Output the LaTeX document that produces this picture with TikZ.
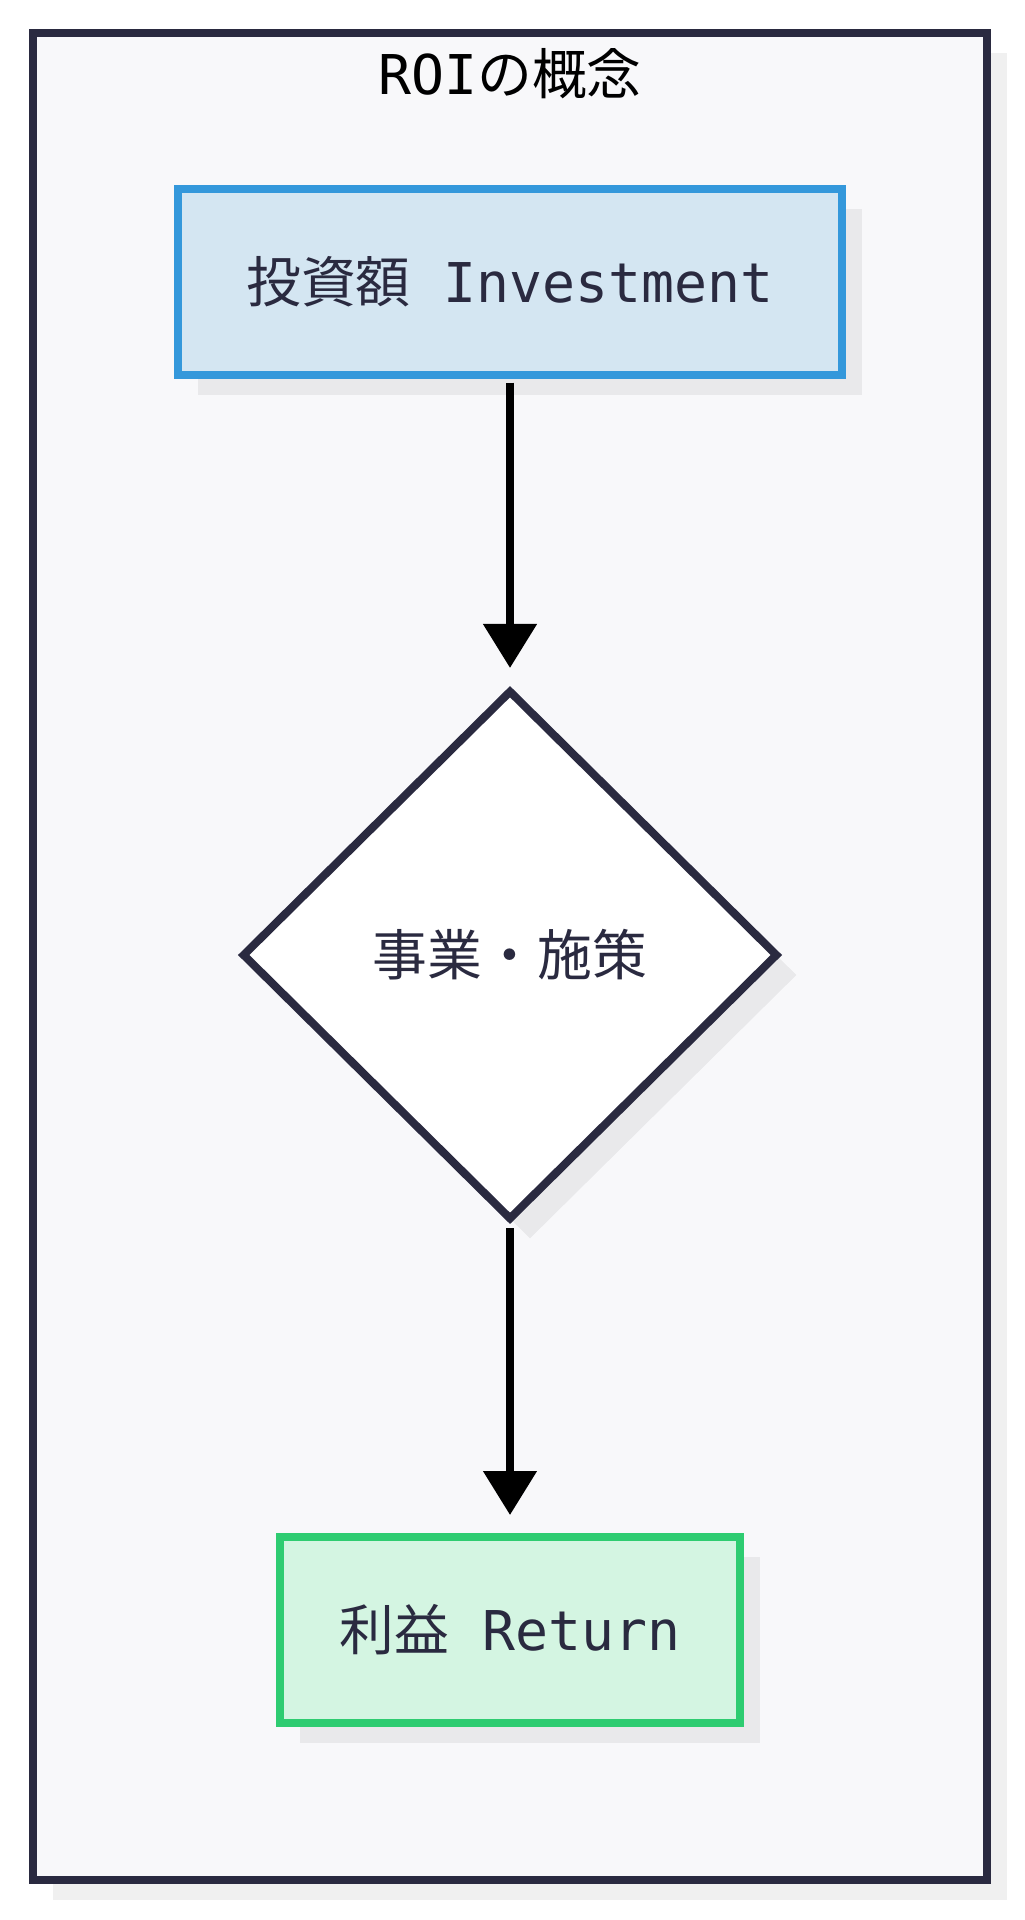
\documentclass[tikz,border=0pt]{standalone}
\usepackage{fontspec}
\newfontfamily\cjk{Noto Sans CJK JP}
\newfontfamily\mono{DejaVu Sans Mono}
\usetikzlibrary{shapes,arrows.meta,positioning,shadows}
\definecolor{navy}{HTML}{2A2A40}
\definecolor{panelbg}{HTML}{F8F8FA}
\definecolor{investblue}{HTML}{3498DB}
\definecolor{investfill}{HTML}{D4E6F2}
\definecolor{returngreen}{HTML}{2ECC71}
\definecolor{returnfill}{HTML}{D4F5E2}

\tikzset{
  softshadow/.style={drop shadow={shadow xshift=0.5cm, shadow yshift=-0.5cm, fill=black, opacity=0.06}},
  bigtext/.style={font=\fontsize{39}{47}\selectfont},
  flowbox/.style={draw, rectangle, line width=0.2cm, softshadow, text=navy, bigtext, inner sep=0pt},
  flowarrow/.style={-{Triangle[length=1.1cm, width=1.3cm]}, line width=0.2cm, black, shorten <=0.1cm, shorten >=0.45cm},
}

\begin{document}
\begin{tikzpicture}
\useasboundingbox (0,0) rectangle (25.6,-48);

% outer panel
\node[draw=navy, fill=panelbg, line width=0.2cm, softshadow, minimum width=23.85cm, minimum height=46.175cm, xshift=12.75cm, yshift=-23.9125cm] (panel) {};
\node[bigtext, text=black, xshift=12.75cm, yshift=-1.85cm] (title) {{\mono ROI}{\cjk の概念}};

\node[flowbox, draw=investblue, fill=investfill, minimum width=16.6cm, minimum height=4.65cm, xshift=12.75cm, yshift=-7.0375cm] (invest) {{\cjk 投資額}{\mono\ Investment}};
\node[draw=navy, fill=white, diamond, aspect=1, line width=0.2cm, softshadow, text=navy, bigtext, inner sep=0pt, minimum width=13.4cm, minimum height=13.25cm, xshift=12.75cm, yshift=-23.875cm] (project) {\cjk 事業・施策};
\node[flowbox, draw=returngreen, fill=returnfill, minimum width=11.5cm, minimum height=4.65cm, xshift=12.75cm, yshift=-40.75cm] (profit) {{\cjk 利益}{\mono\ Return}};

\draw[flowarrow] (invest) -- (project);
\draw[flowarrow] (project) -- (profit);
\end{tikzpicture}
\end{document}
